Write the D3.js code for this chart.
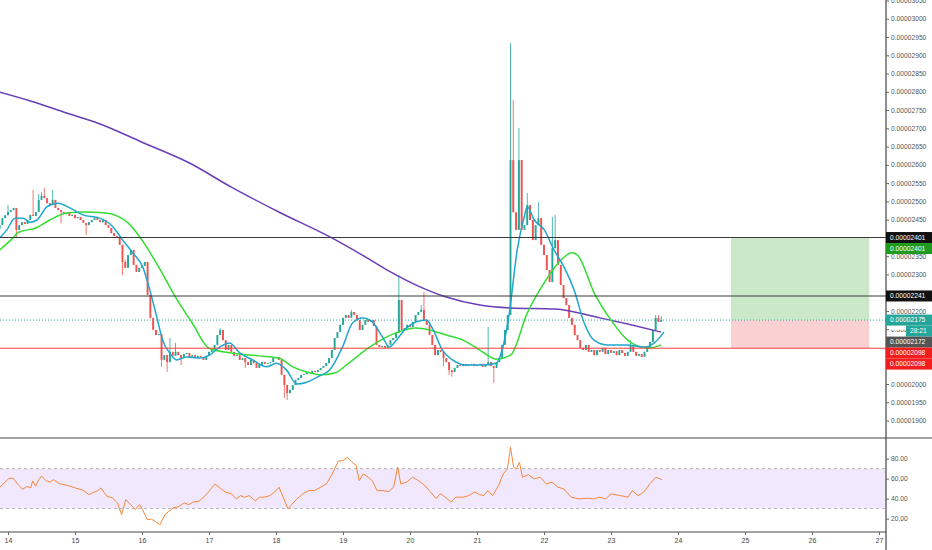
<!DOCTYPE html>
<html>
<head>
<meta charset="utf-8">
<script src="https://cdn.jsdelivr.net/npm/d3@7"></script>
<style>
  html, body { margin: 0; padding: 0; background: #fff; }
  svg { display: block; font-family: "Liberation Sans", Arial, sans-serif; }
</style>
</head>
<body>
<svg id="chart"></svg>
<script>
const width = 932;
const height = 550;
const axisX = 886;
const paneBottom = 438;
const rsiBottom = 532;

// hourly candles, prices in units of 1e-8, first candle is 3 hours before day 14
const firstHour = -3;
const firstOpen = 2425;
const closes = [
  2435, 2454, 2462,
  2471, 2476, 2482, 2422, 2435, 2443, 2438, 2449, 2463, 2460, 2471, 2504, 2515, 2509, 2495, 2490, 2504, 2482, 2476, 2471, 2465, 2468, 2460, 2463,
  2454, 2457, 2449, 2441, 2435, 2443, 2449, 2454, 2449, 2443, 2449, 2435, 2427, 2413, 2405, 2400, 2381, 2334, 2318, 2353, 2367, 2326, 2307, 2318,
  2323, 2334, 2244, 2181, 2148, 2134, 2137, 2066, 2079, 2060, 2088, 2077, 2088, 2079, 2071, 2082, 2085, 2074, 2079, 2071, 2077, 2074, 2066, 2077,
  2088, 2093, 2107, 2134, 2148, 2120, 2093, 2107, 2088, 2077, 2079, 2066, 2071, 2060, 2052, 2066, 2057, 2044, 2052, 2060, 2055, 2057, 2060, 2071,
  2074, 2066, 2025, 1997, 1975, 1984, 1997, 2011, 2016, 2025, 2027, 2033, 2030, 2036, 2033, 2038, 2044, 2049, 2057, 2071, 2093, 2126, 2142, 2162,
  2181, 2189, 2181, 2197, 2189, 2175, 2148, 2162, 2175, 2170, 2175, 2159, 2107, 2101, 2104, 2099, 2107, 2120, 2126, 2140, 2230, 2148, 2153, 2162,
  2156, 2170, 2189, 2197, 2203, 2175, 2162, 2134, 2107, 2079, 2093, 2088, 2071, 2060, 2038, 2033, 2044, 2052, 2049, 2055, 2049, 2052, 2055, 2049,
  2052, 2055, 2047, 2052, 2060, 2049, 2044, 2060, 2071, 2107, 2148, 2189, 2613, 2470, 2422, 2613, 2422, 2435, 2490, 2449, 2394, 2435, 2454, 2381,
  2353, 2312, 2279, 2372, 2394, 2326, 2271, 2235, 2216, 2181, 2162, 2134, 2120, 2099, 2093, 2107, 2088, 2093, 2079, 2093, 2088, 2099, 2082, 2093,
  2085, 2090, 2079, 2093, 2085, 2077, 2088, 2107, 2088, 2077, 2082, 2074, 2088, 2099, 2115, 2148, 2181, 2170, 2175
];
// [hour, high] and [hour, low] where the wick sticks out of the body
const wickHighs = [
  [0, 2490], [9, 2531], [11, 2520], [12, 2525], [13, 2537], [16, 2531], [42, 2340],
  [58, 2126], [60, 2112], [76, 2153], [123, 2203], [140, 2298], [148, 2216], [149, 2252],
  [172, 2156], [180, 2933], [181, 2777], [183, 2701], [186, 2523], [190, 2498],
  [195, 2457], [196, 2463], [223, 2120], [232, 2189], [233, 2189], [234, 2186]
];
const wickLows = [
  [3, 2402], [19, 2440], [28, 2408], [41, 2298], [55, 2047], [57, 2033], [62, 2052],
  [85, 2044], [99, 1962], [100, 1956], [156, 2049], [158, 2025], [159, 2020], [174, 2003]
];

// moving averages read as [hour, price]
const maSlow = [
  [-3, 2799], [8, 2775], [21, 2742], [33, 2712], [48, 2662], [65, 2605], [80, 2539], [97, 2471],
  [116, 2400], [128, 2348], [137, 2307], [147, 2268], [157, 2238], [169, 2216], [180, 2208],
  [196, 2205], [212, 2181], [222, 2164], [234, 2142]
];
const maMid = [
  [-3, 2367], [1, 2394], [4, 2416], [10, 2427], [15, 2449], [21, 2468], [27, 2471], [35, 2468],
  [43, 2441], [48, 2394], [54, 2320], [60, 2238], [66, 2167], [72, 2098], [80, 2085], [90, 2077],
  [97, 2071], [102, 2047], [107, 2033], [112, 2025], [117, 2030], [122, 2057], [129.5, 2101],
  [139, 2140], [146, 2153], [151, 2148], [157, 2134], [163, 2120], [169, 2093], [175, 2068],
  [180, 2079], [186, 2194], [192, 2276], [198, 2339], [202, 2359], [204, 2353], [210, 2249],
  [216, 2175], [222, 2120], [227, 2101], [230, 2099], [234, 2107]
];
const maFast = [
  [-3, 2400], [-0.4, 2422], [2.5, 2454], [5.4, 2454], [7.9, 2443], [10.4, 2449], [13.9, 2485],
  [17.9, 2495], [22.2, 2482], [26.8, 2463], [32.9, 2454], [37.6, 2430], [41.1, 2394], [44.7, 2359],
  [48.3, 2320], [50.8, 2257], [53.3, 2183], [55.4, 2120], [57.9, 2085], [60.4, 2066], [64, 2074],
  [68.7, 2071], [72.2, 2079], [75.8, 2101], [79.4, 2112], [83, 2085], [87.6, 2066], [92.6, 2047],
  [96.2, 2057], [99.8, 2038], [103.4, 2000], [107, 2005], [111.6, 2022], [115.2, 2038],
  [119.8, 2101], [123.4, 2167], [127, 2181], [130.5, 2170], [134.1, 2129], [136.6, 2101],
  [139.1, 2120], [142.7, 2153], [146.3, 2170], [149.9, 2175], [152, 2153], [155.6, 2093],
  [159.2, 2066], [164.2, 2052], [169.9, 2052], [174.9, 2057], [177, 2093], [179.5, 2190],
  [182.4, 2367], [184.9, 2457], [186, 2485], [188.5, 2449], [192.1, 2422], [195.6, 2367],
  [199.2, 2320], [202.8, 2257], [206.4, 2167], [209.9, 2120], [214.6, 2107], [221.7, 2107],
  [227.8, 2101], [231.4, 2112], [235, 2142]
];

// RSI read as [hour, value]
const rsiPoints = [
  [-2.9, 51.4], [0.3, 60.1], [1.8, 60.4], [3.5, 54.4], [5.2, 49.4], [6.7, 52], [8.2, 51], [8.8, 57.7],
  [9.9, 52.4], [11, 59], [12, 62.4], [13.7, 57.7], [15.2, 56.7], [16.3, 59], [18.4, 55], [21.6, 53],
  [23.7, 51], [26.9, 48.4], [29, 44], [30.7, 46.4], [32.2, 48], [33.3, 50.7], [35.4, 42.4],
  [37.5, 40.7], [39.2, 35.7], [40.7, 24], [42.2, 39], [43.9, 34], [45.6, 29], [47.1, 34], [48.2, 29],
  [49.9, 19], [51.4, 19.4], [52.8, 17], [54.5, 14], [56.2, 24], [57.7, 27.4], [59.2, 30.7],
  [60.9, 31.7], [63.1, 35.7], [64.8, 34], [66.2, 36.4], [68.4, 37.4], [70.5, 42.4], [72.6, 49.4],
  [74.1, 54.4], [75.8, 51], [77.9, 46.4], [80.1, 44.7], [81.8, 39.7], [83.3, 43], [84.7, 41.4],
  [86.4, 43], [88.6, 37.7], [90.1, 41.4], [91.8, 41.4], [93.9, 43], [96, 48], [97.1, 51.4],
  [98.8, 39.7], [100.3, 29.7], [101.3, 33], [103.5, 39.7], [105.6, 44.7], [107.7, 48], [109.8, 48],
  [112, 51.4], [114.1, 54.7], [115.8, 63], [117.3, 71.4], [118.3, 77.4], [120, 78], [121.5, 81.4],
  [123, 77], [124.7, 73], [125.8, 58], [127.3, 64.7], [129, 61.4], [130.5, 58], [132.2, 48],
  [134.3, 48], [136.4, 47], [138.1, 51.4], [139.6, 71.4], [140.7, 54.7], [142.8, 56.4],
  [144.9, 61.4], [147, 58], [149.2, 53.4], [151.3, 46.7], [153.4, 40], [154.9, 45], [156.6, 41.4],
  [158.7, 36.4], [160.4, 41.4], [163, 41.4], [165.1, 43], [167.2, 46.7], [168.9, 44], [170.4, 43],
  [171.9, 48], [173.6, 43], [175.7, 53], [177.4, 64.7], [178.9, 69.7], [180, 91.4], [181.1, 71.4],
  [182.1, 69.7], [183.2, 76.4], [184.3, 61.4], [186.4, 64], [188.5, 59.7], [190.6, 61.4],
  [192.8, 54.7], [194.9, 56.4], [197, 51.4], [199.1, 49.7], [201.7, 41.4], [204.5, 39.7],
  [207.6, 40.4], [209.8, 39.7], [211.9, 41.4], [214, 39.7], [216.1, 44.7], [219.3, 43],
  [222.1, 41.4], [223.6, 48], [225.7, 43], [227.8, 46.7], [230, 55], [232.1, 61.4], [234.2, 59]
];

// levels and the long position tool
const targetLevel = 2401;
const midLevel = 2241;
const stopLevel = 2098;
const lastPrice = 2175;
const otherPrice = 2172;
const positionHours = [259, 308.5];
const countdown = "28:21";

const priceTicks = d3.range(1900, 3051, 50);
// tick labels that sit fully under the price tags on the axis
const hiddenTicks = [2050, 2100, 2250, 2400];
const rsiTicks = [20, 40, 60, 80];
const rsiBand = [30, 70];

const start = Date.UTC(2019, 4, 14);
const t = h => new Date(start + h * 3600e3);
const fmtPrice = v => (v * 1e-8).toFixed(8);

const svg = d3.select("#chart").attr("width", width).attr("height", height);

const x = d3.scaleUtc().domain([t(0), t(13 * 24)]).range([8, 879]);
const y = d3.scaleLinear().domain([2000, 2950]).range([384, 37]);
const yr = d3.scaleLinear().domain([20, 80]).range([518.6, 458.6]);

svg.append("rect").attr("width", width).attr("height", height).attr("fill", "#fff");

const defs = svg.append("defs");
defs.append("clipPath").attr("id", "pane")
  .append("rect").attr("x", 0).attr("y", 0).attr("width", axisX).attr("height", paneBottom);
defs.append("clipPath").attr("id", "rsipane")
  .append("rect").attr("x", 0).attr("y", paneBottom).attr("width", axisX).attr("height", rsiBottom - paneBottom);
defs.append("clipPath").attr("id", "undertag")
  .append("rect").attr("x", 0).attr("y", 0).attr("width", 906).attr("height", height);

const pane = svg.append("g").attr("clip-path", "url(#pane)");

// position box
pane.append("rect")
  .attr("x", x(t(positionHours[0])))
  .attr("width", x(t(positionHours[1])) - x(t(positionHours[0])))
  .attr("y", y(targetLevel))
  .attr("height", y(lastPrice) - y(targetLevel))
  .attr("fill", "#cbe8c9");
pane.append("rect")
  .attr("x", x(t(positionHours[0])))
  .attr("width", x(t(positionHours[1])) - x(t(positionHours[0])))
  .attr("y", y(lastPrice))
  .attr("height", y(stopLevel) - y(lastPrice))
  .attr("fill", "#fbd0d2");

// horizontal levels
[[targetLevel, "#3a3a3a", 1.1, null], [midLevel, "#3a3a3a", 1.1, null],
 [stopLevel, "#f23d3d", 1, null], [lastPrice, "#26a69a", 1, "1,2"]].forEach(([v, c, w, dash]) => {
  svg.append("line")
    .attr("x1", 0).attr("x2", axisX)
    .attr("y1", y(v)).attr("y2", y(v))
    .attr("stroke", c).attr("stroke-width", w)
    .attr("stroke-dasharray", dash);
});

// candles
const highMap = new Map(wickHighs);
const lowMap = new Map(wickLows);
const candles = closes.map((c, i) => {
  const h = firstHour + i;
  const o = i === 0 ? firstOpen : closes[i - 1];
  return {
    h, o, c,
    hi: highMap.has(h) ? highMap.get(h) : Math.max(o, c),
    lo: lowMap.has(h) ? lowMap.get(h) : Math.min(o, c)
  };
});

const cg = pane.append("g");
candles.forEach(d => {
  const cx = x(t(d.h));
  const col = d.c >= d.o ? "#26a69a" : "#ef5350";
  cg.append("line")
    .attr("x1", cx).attr("x2", cx)
    .attr("y1", y(d.hi)).attr("y2", y(d.lo))
    .attr("stroke", col).attr("stroke-width", 0.8);
  cg.append("rect")
    .attr("x", cx - 0.95).attr("width", 1.9)
    .attr("y", y(Math.max(d.o, d.c)))
    .attr("height", Math.max(0.8, Math.abs(y(d.o) - y(d.c))))
    .attr("fill", col);
});

// moving averages
const maLine = d3.line()
  .x(d => x(t(d[0])))
  .y(d => y(d[1]))
  .curve(d3.curveMonotoneX);

[[maSlow, "#6a3db8", 1.5], [maMid, "#33dd33", 1.5], [maFast, "#1fa7cc", 1.5]].forEach(([data, c, w]) => {
  pane.append("path")
    .datum(data)
    .attr("fill", "none")
    .attr("stroke", c)
    .attr("stroke-width", w)
    .attr("d", maLine);
});

// RSI pane
const rsiG = svg.append("g").attr("clip-path", "url(#rsipane)");
rsiG.append("rect")
  .attr("x", 0).attr("width", axisX)
  .attr("y", yr(rsiBand[1]))
  .attr("height", yr(rsiBand[0]) - yr(rsiBand[1]))
  .attr("fill", "#f2e8fd");
rsiBand.forEach(v => {
  rsiG.append("line")
    .attr("x1", 0).attr("x2", axisX)
    .attr("y1", yr(v)).attr("y2", yr(v))
    .attr("stroke", "#b8b8b8").attr("stroke-width", 1)
    .attr("stroke-dasharray", "3,3");
});
rsiG.append("path")
  .datum(rsiPoints)
  .attr("fill", "none")
  .attr("stroke", "#f5873a")
  .attr("stroke-width", 1)
  .attr("d", d3.line().x(d => x(t(d[0]))).y(d => yr(d[1])));

// frame lines
svg.append("line").attr("x1", 0).attr("x2", width).attr("y1", paneBottom).attr("y2", paneBottom)
  .attr("stroke", "#444").attr("stroke-width", 1.2);
svg.append("line").attr("x1", 0).attr("x2", axisX).attr("y1", rsiBottom).attr("y2", rsiBottom)
  .attr("stroke", "#444").attr("stroke-width", 1.2);
svg.append("line").attr("x1", axisX).attr("x2", axisX).attr("y1", 0).attr("y2", height)
  .attr("stroke", "#444").attr("stroke-width", 1.2);

// right price axis
const pAxis = svg.append("g")
  .attr("transform", `translate(${axisX},0)`)
  .call(d3.axisRight(y).tickValues(priceTicks).tickSize(3).tickPadding(2)
    .tickFormat(v => hiddenTicks.includes(v) ? "" : fmtPrice(v)));
pAxis.select(".domain").remove();
pAxis.selectAll("line").attr("stroke", "#666");
pAxis.selectAll("text").attr("fill", "#555").style("font-size", "6.7px");
// the 0.00002150 label runs under the countdown tag
pAxis.selectAll(".tick").filter(v => v === 2150).select("text")
  .attr("clip-path", "url(#undertag)");

// RSI axis
const rAxis = svg.append("g")
  .attr("transform", `translate(${axisX},0)`)
  .call(d3.axisRight(yr).tickValues(rsiTicks).tickSize(3).tickPadding(2).tickFormat(d => d.toFixed(2)));
rAxis.select(".domain").remove();
rAxis.selectAll("line").attr("stroke", "#666");
rAxis.selectAll("text").attr("fill", "#555").style("font-size", "6.7px");

// time axis
const tAxis = svg.append("g")
  .attr("transform", `translate(0,${rsiBottom})`)
  .call(d3.axisBottom(x).ticks(d3.utcDay.every(1)).tickSize(3).tickPadding(3).tickFormat(d3.utcFormat("%-d")));
tAxis.select(".domain").remove();
tAxis.selectAll("line").attr("stroke", "#666");
tAxis.selectAll("text").attr("fill", "#444").style("font-size", "7px");

// price labels on the axis, stacked so they don't overlap
const boxH = 11;
const labels = [
  { v: targetLevel, text: fmtPrice(targetLevel), bg: "#111" },
  { v: targetLevel, text: fmtPrice(targetLevel), bg: "#1e9a1e" },
  { v: midLevel, text: fmtPrice(midLevel), bg: "#111" },
  { v: lastPrice, text: fmtPrice(lastPrice), bg: "#26a69a" },
  { v: lastPrice, text: countdown, bg: "#26a69a", short: true },
  { v: otherPrice, text: fmtPrice(otherPrice), bg: "#555" },
  { v: stopLevel, text: fmtPrice(stopLevel), bg: "#f21d1d" },
  { v: stopLevel, text: fmtPrice(stopLevel), bg: "#f21d1d" }
];
let prevY = -Infinity;
labels.forEach(l => {
  let cy = y(l.v);
  if (cy < prevY + boxH) cy = prevY + boxH;
  prevY = cy;
  const x0 = l.short ? 906 : axisX;
  svg.append("rect")
    .attr("x", x0).attr("y", cy - boxH / 2)
    .attr("width", width - x0).attr("height", boxH)
    .attr("fill", l.bg);
  svg.append("text")
    .attr("x", l.short ? 910 : 890)
    .attr("y", cy)
    .attr("dy", "0.35em")
    .attr("fill", "#fff")
    .style("font-size", "6.7px")
    .text(l.text);
});
</script>
</body>
</html>
